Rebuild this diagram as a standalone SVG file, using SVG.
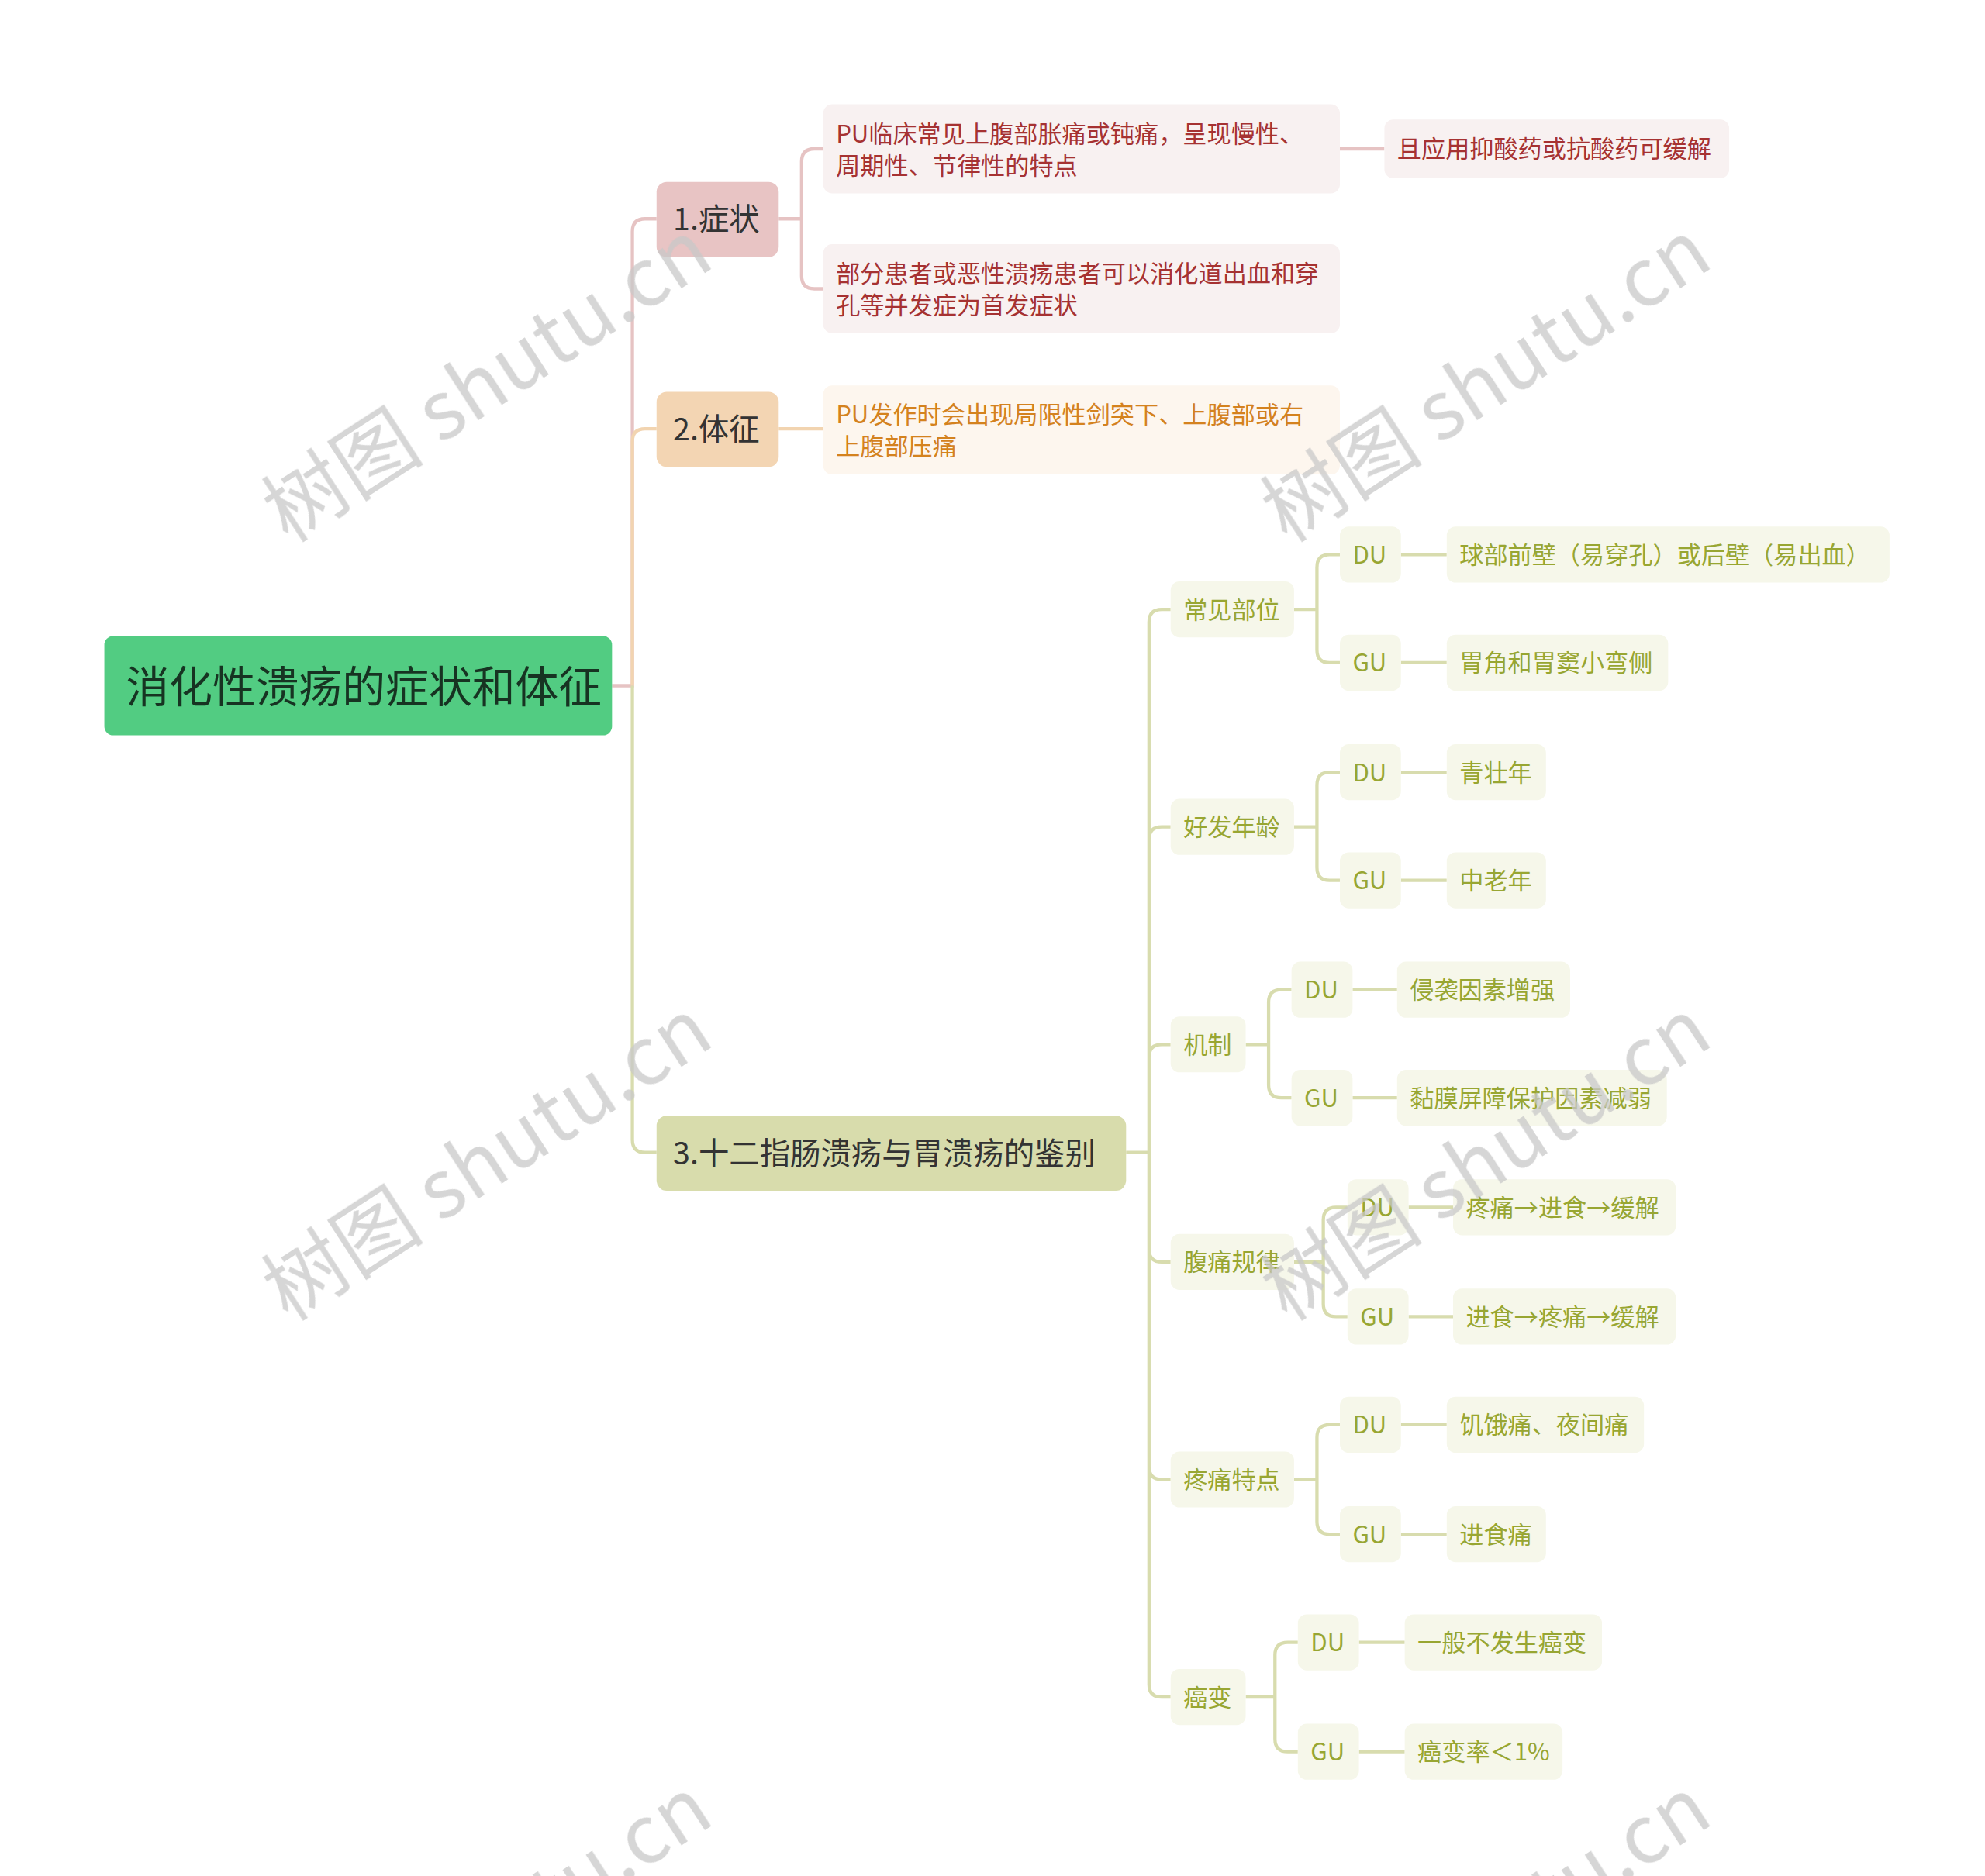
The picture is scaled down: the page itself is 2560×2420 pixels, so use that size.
<svg xmlns="http://www.w3.org/2000/svg" width="2560" height="2420" viewBox="0 0 2560 2420">
<style>
text{font-family:"Noto Sans CJK SC","Noto Sans",sans-serif}
.c{fill:none;stroke-width:2.6}
.l2 rect,.l3 rect{fill:#f6f7ea}
.l2 text,.l3 text{fill:#98a632;font-size:19px}
.wm{fill:#c8c8c8;font-family:"Liberation Serif","Noto Sans CJK SC",serif;font-size:64px;opacity:0.75}
</style>
<rect width="2560" height="2420" fill="#fff"/>
<g transform="scale(1.641)">
<g id="connectors">
<path class="c" stroke="#e6c3c3" d="M481,539 H497 V182 Q497,172 507,172 H516"/>
<path class="c" stroke="#f2d4b0" d="M497,539 V347 Q497,337 507,337 H516"/>
<path class="c" stroke="#d8dcae" d="M497,539 V896 Q497,906 507,906 H516"/>
<path class="c" stroke="#e6c3c3" d="M612,172 H630 V127 Q630,117 640,117 H647 M630,172 V217 Q630,227 640,227 H647 M1053,117 H1088"/>
<path class="c" stroke="#f2d4b0" d="M612,337 H647"/>
<g stroke="#d8dcae">
<path class="c" d="M885,906 H903 V489 Q903,479 913,479 H920 M903,906 V660 Q903,650 913,650 H920 M903,906 V831 Q903,821 913,821 H920 M903,906 V982 Q903,992 913,992 H920 M903,906 V1153 Q903,1163 913,1163 H920 M903,906 V1324 Q903,1334 913,1334 H920"/>
<path class="c" d="M1017,479 H1035 V446 Q1035,436 1045,436 H1053 M1035,479 V511 Q1035,521 1045,521 H1053 M1101,436 H1137 M1101,521 H1137"/>
<path class="c" d="M1017,650 H1035 V617 Q1035,607 1045,607 H1053 M1035,650 V682 Q1035,692 1045,692 H1053 M1101,607 H1137 M1101,692 H1137"/>
<path class="c" d="M979,821 H997 V788 Q997,778 1007,778 H1015 M997,821 V853 Q997,863 1007,863 H1015 M1063,778 H1098 M1063,863 H1098"/>
<path class="c" d="M1017,992 H1040 V959 Q1040,949 1050,949 H1059 M1040,992 V1025 Q1040,1035 1050,1035 H1059 M1107,949 H1142 M1107,1035 H1142"/>
<path class="c" d="M1017,1163 H1035 V1130 Q1035,1120 1045,1120 H1053 M1035,1163 V1196 Q1035,1206 1045,1206 H1053 M1101,1120 H1137 M1101,1206 H1137"/>
<path class="c" d="M979,1334 H1002 V1301 Q1002,1291 1012,1291 H1020 M1002,1334 V1367 Q1002,1377 1012,1377 H1020 M1068,1291 H1104 M1068,1377 H1104"/>
</g>
</g>
<g id="root"><rect x="82" y="500" width="399" height="78" rx="7" fill="#52cc82"/><text x="99" y="552" font-size="34" fill="#173322">消化性溃疡的症状和体征</text></g>
<g id="n1"><rect x="516" y="143" width="96" height="59" rx="8" fill="#e8c4c4"/><text x="529" y="181" font-size="24" fill="#333">1.症状</text></g>
<g id="n1a"><rect x="647" y="82" width="406" height="70" rx="7" fill="#f8f1f1"/><text font-size="19" fill="#a63232"><tspan x="657" y="112">PU临床常见上腹部胀痛或钝痛，呈现慢性、</tspan><tspan x="657" y="137">周期性、节律性的特点</tspan></text></g>
<g id="n1a1"><rect x="1088" y="94" width="271" height="46" rx="7" fill="#f8f1f1"/><text x="1098" y="124" font-size="19" fill="#a63232">且应用抑酸药或抗酸药可缓解</text></g>
<g id="n1b"><rect x="647" y="192" width="406" height="70" rx="7" fill="#f8f1f1"/><text font-size="19" fill="#a63232"><tspan x="657" y="222">部分患者或恶性溃疡患者可以消化道出血和穿</tspan><tspan x="657" y="247">孔等并发症为首发症状</tspan></text></g>
<g id="n2"><rect x="516" y="308" width="96" height="59" rx="8" fill="#f3d5b3"/><text x="529" y="346" font-size="24" fill="#333">2.体征</text></g>
<g id="n2a"><rect x="647" y="303" width="406" height="70" rx="7" fill="#fdf6ee"/><text font-size="19" fill="#d4821e"><tspan x="657" y="333">PU发作时会出现局限性剑突下、上腹部或右</tspan><tspan x="657" y="358">上腹部压痛</tspan></text></g>
<g id="n3"><rect x="516" y="877" width="369" height="59" rx="8" fill="#d8dcac"/><text x="529" y="915" font-size="24" fill="#333">3.十二指肠溃疡与胃溃疡的鉴别</text></g>
<g class="l2">
<g id="a"><rect x="920" y="457" width="97" height="44" rx="7"/><text x="930" y="486">常见部位</text></g>
<g id="b"><rect x="920" y="628" width="97" height="44" rx="7"/><text x="930" y="657">好发年龄</text></g>
<g id="c"><rect x="920" y="799" width="59" height="44" rx="7"/><text x="930" y="828">机制</text></g>
<g id="d"><rect x="920" y="970" width="97" height="44" rx="7"/><text x="930" y="999">腹痛规律</text></g>
<g id="e"><rect x="920" y="1141" width="97" height="44" rx="7"/><text x="930" y="1170">疼痛特点</text></g>
<g id="f"><rect x="920" y="1312" width="59" height="44" rx="7"/><text x="930" y="1341">癌变</text></g>
</g>
<g class="l3">
<g id="a1"><rect x="1053" y="414" width="48" height="44" rx="7"/><text x="1063" y="443">DU</text></g>
<g id="a1x"><rect x="1137" y="414" width="348" height="44" rx="7"/><text x="1147" y="443">球部前壁（易穿孔）或后壁（易出血）</text></g>
<g id="a2"><rect x="1053" y="499" width="48" height="44" rx="7"/><text x="1063" y="528">GU</text></g>
<g id="a2x"><rect x="1137" y="499" width="174" height="44" rx="7"/><text x="1147" y="528">胃角和胃窦小弯侧</text></g>
<g id="b1"><rect x="1053" y="585" width="48" height="44" rx="7"/><text x="1063" y="614">DU</text></g>
<g id="b1x"><rect x="1137" y="585" width="78" height="44" rx="7"/><text x="1147" y="614">青壮年</text></g>
<g id="b2"><rect x="1053" y="670" width="48" height="44" rx="7"/><text x="1063" y="699">GU</text></g>
<g id="b2x"><rect x="1137" y="670" width="78" height="44" rx="7"/><text x="1147" y="699">中老年</text></g>
<g id="c1"><rect x="1015" y="756" width="48" height="44" rx="7"/><text x="1025" y="785">DU</text></g>
<g id="c1x"><rect x="1098" y="756" width="136" height="44" rx="7"/><text x="1108" y="785">侵袭因素增强</text></g>
<g id="c2"><rect x="1015" y="841" width="48" height="44" rx="7"/><text x="1025" y="870">GU</text></g>
<g id="c2x"><rect x="1098" y="841" width="212" height="44" rx="7"/><text x="1108" y="870">黏膜屏障保护因素减弱</text></g>
<g id="d1"><rect x="1059" y="927" width="48" height="44" rx="7"/><text x="1069" y="956">DU</text></g>
<g id="d1x"><rect x="1142" y="927" width="175" height="44" rx="7"/><text x="1152" y="956">疼痛→进食→缓解</text></g>
<g id="d2"><rect x="1059" y="1013" width="48" height="44" rx="7"/><text x="1069" y="1042">GU</text></g>
<g id="d2x"><rect x="1142" y="1013" width="175" height="44" rx="7"/><text x="1152" y="1042">进食→疼痛→缓解</text></g>
<g id="e1"><rect x="1053" y="1098" width="48" height="44" rx="7"/><text x="1063" y="1127">DU</text></g>
<g id="e1x"><rect x="1137" y="1098" width="155" height="44" rx="7"/><text x="1147" y="1127">饥饿痛、夜间痛</text></g>
<g id="e2"><rect x="1053" y="1184" width="48" height="44" rx="7"/><text x="1063" y="1213">GU</text></g>
<g id="e2x"><rect x="1137" y="1184" width="78" height="44" rx="7"/><text x="1147" y="1213">进食痛</text></g>
<g id="f1"><rect x="1020" y="1269" width="48" height="44" rx="7"/><text x="1030" y="1298">DU</text></g>
<g id="f1x"><rect x="1104" y="1269" width="155" height="44" rx="7"/><text x="1114" y="1298">一般不发生癌变</text></g>
<g id="f2"><rect x="1020" y="1355" width="48" height="44" rx="7"/><text x="1030" y="1384">GU</text></g>
<g id="f2x"><rect x="1104" y="1355" width="124" height="44" rx="7"/><text x="1114" y="1384">癌变率＜1%</text></g>
</g>
<g class="wm">
<text transform="translate(395,318) rotate(-33)" text-anchor="middle">树图 shutu.cn</text>
<text transform="translate(1180,318) rotate(-33)" text-anchor="middle">树图 shutu.cn</text>
<text transform="translate(395,930) rotate(-33)" text-anchor="middle">树图 shutu.cn</text>
<text transform="translate(1180,930) rotate(-33)" text-anchor="middle">树图 shutu.cn</text>
<text transform="translate(395,1542) rotate(-33)" text-anchor="middle">树图 shutu.cn</text>
<text transform="translate(1180,1542) rotate(-33)" text-anchor="middle">树图 shutu.cn</text>
</g>
</g>
</svg>
